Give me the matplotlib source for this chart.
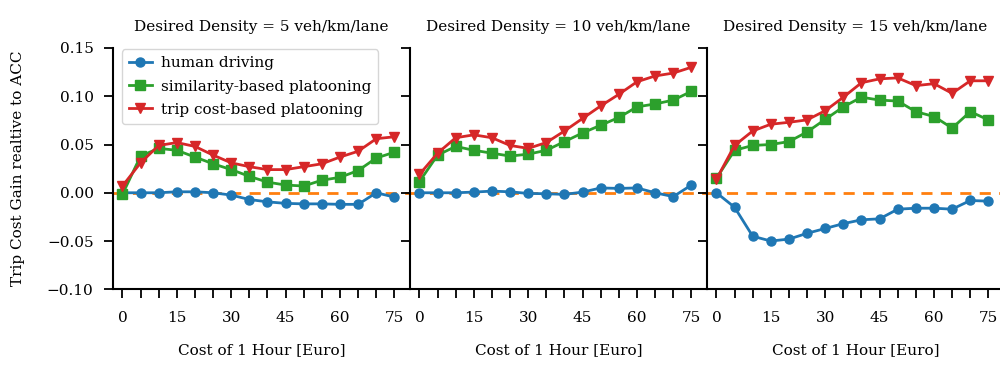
import matplotlib.pyplot as plt
import numpy as np

plt.rcParams['font.family'] = ['DejaVu Serif']
plt.rcParams['font.size'] = 11

cost = np.arange(0, 80, 5)
densities = [5, 10, 15]

human = [
    [0, 0, 0, 0.001, 0.001, 0, -0.0024, -0.007, -0.0094, -0.011, -0.0115, -0.0115, -0.012, -0.012, 0.0, -0.0045],
    [0, 0, 0, 0.0007, 0.0017, 0.001, -0.0007, -0.001, -0.0017, 0.0007, 0.005, 0.0045, 0.005, 0, -0.004, 0.008],
    [0, -0.015, -0.045, -0.050, -0.048, -0.042, -0.037, -0.032, -0.028, -0.027, -0.017, -0.016, -0.016, -0.017, -0.008, -0.0087],
]
similarity = [
    [-0.0017, 0.038, 0.046, 0.044, 0.037, 0.030, 0.024, 0.017, 0.011, 0.008, 0.007, 0.013, 0.016, 0.023, 0.036, 0.042],
    [0.0115, 0.039, 0.048, 0.044, 0.041, 0.038, 0.040, 0.044, 0.053, 0.062, 0.070, 0.078, 0.089, 0.092, 0.096, 0.105],
    [0.015, 0.044, 0.049, 0.050, 0.053, 0.063, 0.076, 0.089, 0.099, 0.096, 0.095, 0.084, 0.079, 0.067, 0.084, 0.0755],
]
tripcost = [
    [0.007, 0.031, 0.049, 0.052, 0.048, 0.039, 0.031, 0.027, 0.024, 0.024, 0.027, 0.030, 0.037, 0.043, 0.056, 0.058],
    [0.019, 0.041, 0.057, 0.060, 0.057, 0.049, 0.046, 0.052, 0.064, 0.077, 0.090, 0.102, 0.115, 0.121, 0.124, 0.130],
    [0.014, 0.049, 0.064, 0.071, 0.073, 0.0755, 0.085, 0.099, 0.114, 0.118, 0.119, 0.111, 0.113, 0.103, 0.116, 0.116],
]

fig = plt.figure(figsize=(10, 3.69), dpi=100)
left, width, bottom, height = 0.113, 0.297, 0.216, 0.654

axs = []
for i, dens in enumerate(densities):
    ax = fig.add_axes([left + i * width, bottom, width, height], sharey=axs[0] if axs else None)
    axs.append(ax)
    ax.axhline(0, color='tab:orange', ls='--', lw=2, dashes=(4, 3), zorder=1)
    ax.plot(cost, human[i], '-o', color='tab:blue', lw=2, ms=6.5, label='human driving', zorder=3)
    ax.plot(cost, similarity[i], '-s', color='tab:green', lw=2, ms=6.5, label='similarity-based platooning', zorder=3)
    ax.plot(cost, tripcost[i], '-v', color='tab:red', lw=2, ms=7.5, label='trip cost-based platooning', zorder=3)
    ax.set_xlim(-2.6, 79.3)
    ax.set_ylim(-0.10, 0.15)
    ax.set_xticks(np.arange(0, 80, 5))
    ax.set_xticklabels([str(c) if c % 15 == 0 else '' for c in cost])
    ax.set_yticks(np.arange(-0.10, 0.151, 0.05))
    ax.spines['top'].set_visible(False)
    ax.spines['right'].set_visible(False)
    ax.spines['left'].set_linewidth(1.5)
    ax.spines['bottom'].set_linewidth(1.5)
    ax.tick_params(length=6.5, width=1.3, labelsize=11, pad=7.5)
    ax.tick_params(axis='x', pad=9)
    ax.set_title(f'Desired Density = {dens} veh/km/lane', fontsize=11, pad=12)
    ax.set_xlabel('Cost of 1 Hour [Euro]', fontsize=11, labelpad=13)
    if i > 0:
        ax.tick_params(labelleft=False)
    ax.patch.set_alpha(0)

axs[0].set_ylabel('Trip Cost Gain realtive to ACC', fontsize=11)
axs[0].yaxis.set_label_coords(-0.295, 0.5)
axs[0].legend(loc='upper left', bbox_to_anchor=(0.025, 1.0), fontsize=11, handlelength=1.5,
              handletextpad=0.6, borderaxespad=0.1, labelspacing=0.6, borderpad=0.45)

fig.savefig('out.png', dpi=100)
